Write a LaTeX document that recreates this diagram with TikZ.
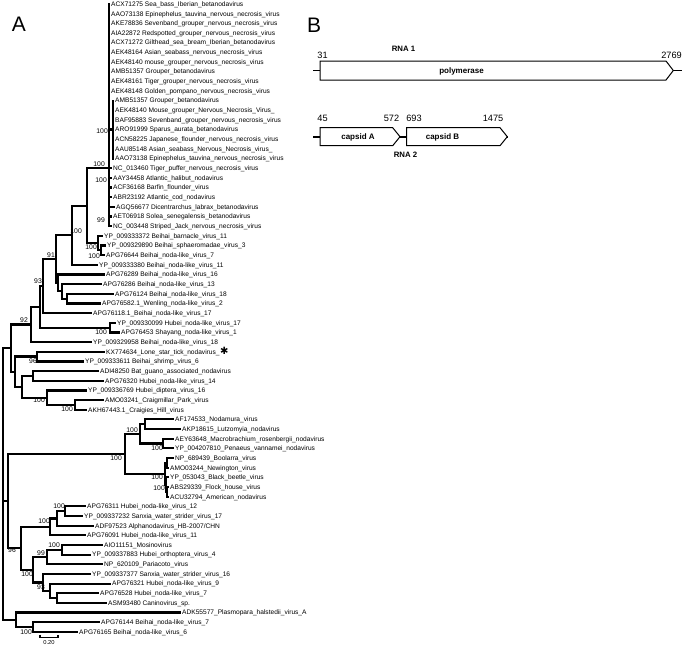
\documentclass[tikz,border=0pt]{standalone}
\usepackage{fontspec}
\setmainfont{Liberation Sans}
\newfontfamily\symfont{DejaVu Sans}
\newcommand\leaffont{\fontsize{6.6}{7}\selectfont}
\newcommand\bsfont{\fontsize{6.8}{7}\selectfont}
\newcommand\numfont{\fontsize{9.2}{10}\selectfont}
\newcommand\genefont{\fontsize{8}{9}\selectfont\bfseries}
\newcommand\panelfont{\fontsize{21}{22}\selectfont}
\begin{document}
\begin{tikzpicture}[x=1pt,y=-1pt,
  br/.style={line width=2.2pt},
  bar/.style={line width=2.6pt},
  leaf/.style={anchor=west, inner xsep=1pt, inner ysep=0pt, text height=4.7pt, text depth=0pt, font=\leaffont},
  bs/.style={anchor=east, inner sep=0pt, font=\bsfont},
  gene/.style={draw=black, line width=1pt, fill=white, line join=miter},
  backbone/.style={line width=1.8pt},
  num/.style={font=\numfont, inner sep=0pt},
  glab/.style={font=\genefont, inner sep=0pt},
  panel/.style={font=\panelfont, inner sep=0pt}]
\useasboundingbox (0,0) rectangle (698,646);

% ---------- panel letters ----------
\node[panel] (pA) at (19,24.5) {A};
\node[panel] (pB) at (314,25) {B};

% ---------- bootstrap values ----------
\node[bs] (b1) at (108,131) {100};
\node[bs] (b2) at (105,164.5) {100};
\node[bs] (b3) at (107,180) {100};
\node[bs] (b4) at (105,220.5) {99};
\node[bs] (b5) at (82,231) {100};
\node[bs] (b6) at (97,247) {100};
\node[bs] (b7) at (100,256.5) {100};
\node[bs] (b8) at (55,255) {91};
\node[bs] (b9) at (42,281) {93};
\node[bs] (b10) at (28,320) {92};
\node[bs] (b11) at (107,332) {100};
\node[bs] (b12) at (37,361.5) {96};
\node[bs] (b13) at (45,400) {100};
\node[bs] (b14) at (73,409) {100};
\node[bs] (b15) at (138,430) {100};
\node[bs] (b16) at (163,448) {100};
\node[bs] (b17) at (122,458) {100};
\node[bs] (b18) at (163,477) {100};
\node[bs] (b19) at (165,488) {100};
\node[bs] (b20) at (65,506) {100};
\node[bs] (b21) at (50,521) {100};
\node[bs] (b22) at (16,550) {96};
\node[bs] (b23) at (60,545) {100};
\node[bs] (b24) at (45,553) {99};
\node[bs] (b25) at (33,574) {100};
\node[bs] (b26) at (45,587) {93};
\node[bs] (b27) at (32,632) {100};

% ---------- leaves ----------
\node[leaf] (l1) at (110,4.00) {ACX71275 Sea\_bass\_Iberian\_betanodavirus};
\node[leaf] (l2) at (110,13.66) {AAO73138 Epinephelus\_tauvina\_nervous\_necrosis\_virus};
\node[leaf] (l3) at (110,23.32) {AKE78836 Sevenband\_grouper\_nervous\_necrosis\_virus};
\node[leaf] (l4) at (110,32.98) {AIA22872 Redspotted\_grouper\_nervous\_necrosis\_virus};
\node[leaf] (l5) at (110,42.64) {ACX71272 Gilthead\_sea\_bream\_Iberian\_betanodavirus};
\node[leaf] (l6) at (110,52.30) {AEK48164 Asian\_seabass\_nervous\_necrosis\_virus};
\node[leaf] (l7) at (110,61.96) {AEK48140 mouse\_grouper\_nervous\_necrosis\_virus};
\node[leaf] (l8) at (110,71.62) {AMB51357 Grouper\_betanodavirus};
\node[leaf] (l9) at (110,81.28) {AEK48161 Tiger\_grouper\_nervous\_necrosis\_virus};
\node[leaf] (l10) at (110,90.94) {AEK48148 Golden\_pompano\_nervous\_necrosis\_virus};
\node[leaf] (l11) at (114,100.60) {AMB51357 Grouper\_betanodavirus};
\node[leaf] (l12) at (114,110.26) {AEK48140 Mouse\_grouper\_Nervous\_Necrosis\_Virus\_};
\node[leaf] (l13) at (114,119.92) {BAF95883 Sevenband\_grouper\_nervous\_necrosis\_virus};
\node[leaf] (l14) at (114,129.58) {ARO91999 Sparus\_aurata\_betanodavirus};
\node[leaf] (l15) at (114,139.24) {ACN58225 Japanese\_flounder\_nervous\_necrosis\_virus};
\node[leaf] (l16) at (114,148.90) {AAU85148 Asian\_seabass\_Nervous\_Necrosis\_virus\_};
\node[leaf] (l17) at (114,158.56) {AAO73138 Epinephelus\_tauvina\_nervous\_necrosis\_virus};
\node[leaf] (l18) at (112,168.22) {NC\_013460 Tiger\_puffer\_nervous\_necrosis\_virus};
\node[leaf] (l19) at (112,177.88) {AAY34458 Atlantic\_halibut\_nodavirus};
\node[leaf] (l20) at (112,187.54) {ACF36168 Barfin\_flounder\_virus};
\node[leaf] (l21) at (112,197.20) {ABR23192 Atlantic\_cod\_nodavirus};
\node[leaf] (l22) at (115,206.86) {AGQ56677 Dicentrarchus\_labrax\_betanodavirus};
\node[leaf] (l23) at (112,216.52) {AET06918 Solea\_senegalensis\_betanodavirus};
\node[leaf] (l24) at (112,226.18) {NC\_003448 Striped\_Jack\_nervous\_necrosis\_virus};
\node[leaf] (l25) at (103,235.84) {YP\_009333372 Beihai\_barnacle\_virus\_11};
\node[leaf] (l26) at (106,245.50) {YP\_009329890 Beihai\_sphaeromadae\_virus\_3};
\node[leaf] (l27) at (105,255.16) {APG76644 Beihai\_noda-like\_virus\_7};
\node[leaf] (l28) at (98,264.82) {YP\_009333380 Beihai\_noda-like\_virus\_11};
\node[leaf] (l29) at (105,274.48) {APG76289 Beihai\_noda-like\_virus\_16};
\node[leaf] (l30) at (102,284.14) {APG76286 Beihai\_noda-like\_virus\_13};
\node[leaf] (l31) at (114,293.80) {APG76124 Beihai\_noda-like\_virus\_18};
\node[leaf] (l32) at (101,303.46) {APG76582.1\_Wenling\_noda-like\_virus\_2};
\node[leaf] (l33) at (92,313.12) {APG76118.1\_Beihai\_noda-like\_virus\_17};
\node[leaf] (l34) at (116,322.78) {YP\_009330099 Hubei\_noda-like\_virus\_17};
\node[leaf] (l35) at (120,332.44) {APG76453 Shayang\_noda-like\_virus\_1};
\node[leaf] (l36) at (92,342.10) {YP\_009329958 Beihai\_noda-like\_virus\_18};
\node[leaf] (l37) at (105,351.76) {KX774634\_Lone\_star\_tick\_nodavirus\_\hspace{0.5pt}{\symfont\fontsize{10}{10}\selectfont ✱}};
\node[leaf] (l38) at (84,361.42) {YP\_009333611 Beihai\_shrimp\_virus\_6};
\node[leaf] (l39) at (99,371.08) {ADI48250 Bat\_guano\_associated\_nodavirus};
\node[leaf] (l40) at (104,380.74) {APG76320 Hubei\_noda-like\_virus\_14};
\node[leaf] (l41) at (87,390.40) {YP\_009336769 Hubei\_diptera\_virus\_16};
\node[leaf] (l42) at (104,400.06) {AMO03241\_Craigmillar\_Park\_virus};
\node[leaf] (l43) at (87,409.72) {AKH67443.1\_Craigies\_Hill\_virus};
\node[leaf] (l44) at (174,419.38) {AF174533\_Nodamura\_virus};
\node[leaf] (l45) at (181,429.04) {AKP18615\_Lutzomyia\_nodavirus};
\node[leaf] (l46) at (174,438.70) {AEY63648\_Macrobrachium\_rosenbergii\_nodavirus};
\node[leaf] (l47) at (174,448.36) {YP\_004207810\_Penaeus\_vannamei\_nodavirus};
\node[leaf] (l48) at (174,458.02) {NP\_689439\_Boolarra\_virus};
\node[leaf] (l49) at (169,467.68) {AMO03244\_Newington\_virus};
\node[leaf] (l50) at (169,477.34) {YP\_053043\_Black\_beetle\_virus};
\node[leaf] (l51) at (169,487.00) {ABS29339\_Flock\_house\_virus};
\node[leaf] (l52) at (169,496.66) {ACU32794\_American\_nodavirus};
\node[leaf] (l53) at (86,506.32) {APG76311 Hubei\_noda-like\_virus\_12};
\node[leaf] (l54) at (83,515.98) {YP\_009337232 Sanxia\_water\_strider\_virus\_17};
\node[leaf] (l55) at (94,525.64) {ADF97523 Alphanodavirus\_HB-2007/CHN};
\node[leaf] (l56) at (86,535.30) {APG76091 Hubei\_noda-like\_virus\_11};
\node[leaf] (l57) at (103,544.96) {AIO11151\_Mosinovirus};
\node[leaf] (l58) at (91,554.62) {YP\_009337883 Hubei\_orthoptera\_virus\_4};
\node[leaf] (l59) at (103,564.28) {NP\_620109\_Pariacoto\_virus};
\node[leaf] (l60) at (91,573.94) {YP\_009337377 Sanxia\_water\_strider\_virus\_16};
\node[leaf] (l61) at (111,583.60) {APG76321 Hubei\_noda-like\_virus\_9};
\node[leaf] (l62) at (99,593.26) {APG76528 Hubei\_noda-like\_virus\_7};
\node[leaf] (l63) at (107,602.92) {ASM93480 Caninovirus\_sp.};
\node[leaf] (l64) at (181,612.58) {ADK55577\_Plasmopara\_halstedii\_virus\_A};
\node[leaf] (l65) at (100,622.24) {APG76144 Beihai\_noda-like\_virus\_7};
\node[leaf] (l66) at (78,631.90) {APG76165 Beihai\_noda-like\_virus\_6};

% ---------- internal nodes ----------
\coordinate (BR) at (109,168.22);
\coordinate (G)  at (113,129.58);
\coordinate (B26) at (101,250.33);
\coordinate (B27) at (98,243.09);
\coordinate (N)  at (87,205.66);
\coordinate (P)  at (72,235.24);
\coordinate (T2) at (67,298.63);
\coordinate (T1) at (62,291.39);
\coordinate (T0) at (58,282.94);
\coordinate (S)  at (56,259.09);
\coordinate (U)  at (43,286.11);
\coordinate (K)  at (110,327.61);
\coordinate (X)  at (40,306.86);
\coordinate (V)  at (31,324.48);
\coordinate (Q)  at (37,356.59);
\coordinate (M1) at (33,375.91);
\coordinate (M3) at (75,404.89);
\coordinate (M2) at (47,397.65);
\coordinate (M)  at (22,386.78);
\coordinate (Z2) at (15,371.69);
\coordinate (Z0) at (11,348.09);
\coordinate (A1) at (145,424.21);
\coordinate (A2) at (163,443.53);
\coordinate (A3) at (140,433.87);
\coordinate (A4) at (167,462.85);
\coordinate (A5) at (167,491.83);
\coordinate (A6) at (166,484.59);
\coordinate (A7) at (165,473.72);
\coordinate (A8) at (125,453.80);
\coordinate (C1) at (65,511.15);
\coordinate (C2) at (57,518.40);
\coordinate (C3) at (50,526.85);
\coordinate (D1) at (62,549.79);
\coordinate (D2) at (47,557.04);
\coordinate (E1) at (57,598.09);
\coordinate (E2) at (50,590.85);
\coordinate (E3) at (43,582.40);
\coordinate (D3) at (33,569.72);
\coordinate (C4) at (21,548.29);
\coordinate (N8) at (8,501.05);
\coordinate (F1) at (33,627.07);
\coordinate (F2) at (16,619.83);
\coordinate (R)  at (3,483.96);

% ---------- branches ----------
\foreach \i in {1,...,10,18,19,20,21,22,23,24} \draw[br] (BR) |- (l\i.west);
\draw[br] (BR) |- (G);
\foreach \i in {11,...,17} \draw[br] (G) |- (l\i.west);
\draw[bar] (BR |- l1.west) -- (BR |- l24.west);
\draw[bar] (G |- l11.west) -- (G |- l17.west);

\draw[br] (N) |- (BR);  \draw[br] (N) |- (B27);
\draw[br] (B27) |- (l25.west); \draw[br] (B27) |- (B26);
\draw[br] (B26) |- (l26.west); \draw[br] (B26) |- (l27.west);
\draw[br] (P) |- (N); \draw[br] (P) |- (l28.west);
\draw[br] (T2) |- (l31.west); \draw[br] (T2) |- (l32.west);
\draw[br] (T1) |- (l30.west); \draw[br] (T1) |- (T2);
\draw[br] (T0) |- (l29.west); \draw[br] (T0) |- (T1);
\draw[br] (S) |- (P); \draw[br] (S) |- (T0);
\draw[br] (U) |- (S); \draw[br] (U) |- (l33.west);
\draw[br] (K) |- (l34.west); \draw[br] (K) |- (l35.west);
\draw[br] (X) |- (U); \draw[br] (X) |- (K);
\draw[br] (V) |- (X); \draw[br] (V) |- (l36.west);
\draw[br] (Q) |- (l37.west); \draw[br] (Q) |- (l38.west);
\draw[br] (M1) |- (l39.west); \draw[br] (M1) |- (l40.west);
\draw[br] (M3) |- (l42.west); \draw[br] (M3) |- (l43.west);
\draw[br] (M2) |- (l41.west); \draw[br] (M2) |- (M3);
\draw[br] (M) |- (M1); \draw[br] (M) |- (M2);
\draw[br] (Z2) |- (Q); \draw[br] (Z2) |- (M);
\draw[br] (Z0) |- (V); \draw[br] (Z0) |- (Z2);

\draw[br] (A1) |- (l44.west); \draw[br] (A1) |- (l45.west);
\draw[br] (A2) |- (l46.west); \draw[br] (A2) |- (l47.west);
\draw[br] (A3) |- (A1); \draw[br] (A3) |- (A2);
\draw[br] (A4) |- (l48.west); \draw[br] (A4) |- (l49.west);
\draw[br] (A5) |- (l51.west); \draw[br] (A5) |- (l52.west);
\draw[br] (A6) |- (l50.west); \draw[br] (A6) |- (A5);
\draw[br] (A7) |- (A4); \draw[br] (A7) |- (A6);
\draw[br] (A8) |- (A3); \draw[br] (A8) |- (A7);

\draw[br] (C1) |- (l53.west); \draw[br] (C1) |- (l54.west);
\draw[br] (C2) |- (C1); \draw[br] (C2) |- (l55.west);
\draw[br] (C3) |- (C2); \draw[br] (C3) |- (l56.west);
\draw[br] (D1) |- (l57.west); \draw[br] (D1) |- (l58.west);
\draw[br] (D2) |- (D1); \draw[br] (D2) |- (l59.west);
\draw[br] (E1) |- (l62.west); \draw[br] (E1) |- (l63.west);
\draw[br] (E2) |- (l61.west); \draw[br] (E2) |- (E1);
\draw[br] (E3) |- (l60.west); \draw[br] (E3) |- (E2);
\draw[br] (D3) |- (D2); \draw[br] (D3) |- (E3);
\draw[br] (C4) |- (C3); \draw[br] (C4) |- (D3);
\draw[br] (N8) |- (A8); \draw[br] (N8) |- (C4);

\draw[br] (F1) |- (l65.west); \draw[br] (F1) |- (l66.west);
\draw[br] (F2) |- (l64.west); \draw[br] (F2) |- (F1);

\draw[br] (R) |- (Z0); \draw[br] (R) |- (N8); \draw[br] (R) |- (F2);

% ---------- scale bar ----------
\coordinate (sb1) at (40,634.5);
\coordinate (sb2) at (58,634.5);
\draw[line width=1.5pt] (sb1) -- ++(0,3) -| (sb2);
\node[font=\fontsize{5.8}{6}\selectfont, inner sep=0pt] (sbl) at (49,642) {0.20};

% ---------- panel B ----------
\coordinate (r1a) at (313,70.5);
\coordinate (r1b) at (682,70.5);
\draw[backbone] (r1a) -- (r1b);
\draw[gene] (320,61) -- (666,61) -- (673.3,70.5) -- (666,80) -- (320,80) -- cycle;
\node[glab] (pol) at (461.5,71) {polymerase};
\node[num] (n31) at (322.5,55) {31};
\node[num] (n2769) at (671.5,55) {2769};
\node[glab, font=\fontsize{7.8}{8}\selectfont\bfseries] (rna1) at (403.5,49) {RNA 1};

\coordinate (r2a) at (313,136.7);
\coordinate (r2b) at (508,136.7);
\draw[backbone] (r2a) -- (r2b);
\draw[gene] (320,127.7) -- (392.7,127.7) -- (400,136.7) -- (392.7,145.7) -- (320,145.7) -- cycle;
\draw[gene] (406.7,127.7) -- (500,127.7) -- (507.3,136.7) -- (500,145.7) -- (406.7,145.7) -- cycle;
\node[glab] (capA) at (358,137) {capsid A};
\node[glab] (capB) at (442.5,137) {capsid B};
\node[num] (n45) at (322.5,118) {45};
\node[num] (n572) at (391.5,118) {572};
\node[num] (n693) at (414,118) {693};
\node[num] (n1475) at (493,118) {1475};
\node[glab, font=\fontsize{7.8}{8}\selectfont\bfseries] (rna2) at (405.5,155) {RNA 2};
\end{tikzpicture}
\end{document}
